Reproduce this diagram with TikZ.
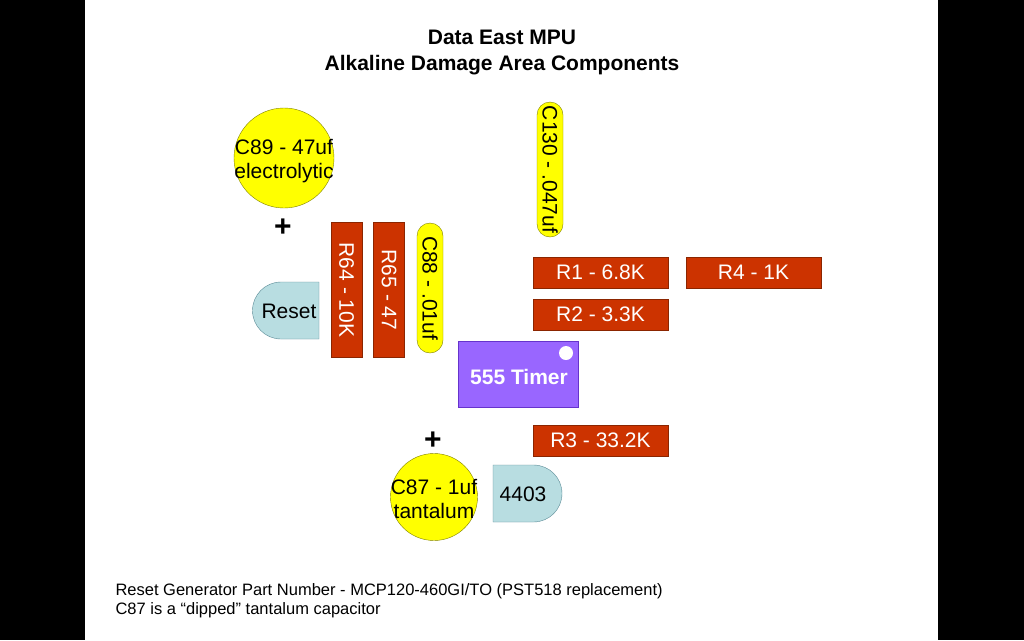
\documentclass[tikz,border=0pt]{standalone}
\usepackage{fontspec}
\setmainfont{Liberation Sans}
\definecolor{resfill}{HTML}{CC3300}
\definecolor{resedge}{HTML}{8B2500}
\definecolor{capfill}{HTML}{FFFF00}
\definecolor{capedge}{HTML}{808000}
\definecolor{chipfill}{HTML}{9966FF}
\definecolor{chipedge}{HTML}{6633CC}
\definecolor{icfill}{HTML}{B8DDE1}
\definecolor{icedge}{HTML}{5A8A96}
\begin{document}
\begin{tikzpicture}[x=1pt,y=-1pt,
  partfont/.style={font=\fontsize{21}{24}\selectfont},
  resistor/.style={partfont,draw=resedge,fill=resfill,text=white,inner sep=0pt,
    minimum width=#1,minimum height=31pt},
  capbar/.style={partfont,draw=capedge,fill=capfill,rounded corners=13pt,inner sep=0pt,
    minimum width=#1,minimum height=26pt},
  bigcap/.style={draw=capedge,fill=capfill,circle,inner sep=0pt,minimum size=#1},
  icbody/.style={draw=icedge,fill=icfill},
  plussign/.style={font=\fontsize{30}{30}\selectfont\bfseries}]
% slide area
\fill[black] (0,0) rectangle (1024,640);
\fill[white] (85,0) rectangle (938,640);
% title
\node[align=center,font=\fontsize{21}{26}\selectfont\bfseries] (title) at (502,52)
  {Data East MPU\\Alkaline Damage Area Components};
% electrolytic cap
\node[bigcap=100pt] (c89) at (284,158) {};
\node[align=center,font=\fontsize{21}{24.5}\selectfont] (c89txt) at (284,161) {C89 - 47uf\\electrolytic};
\node[plussign] (c89plus) at (283,228) {+};
% reset generator
\draw[icbody] (319,282) -- (281,282) arc (270:90:28.5) -- (319,339) -- cycle;
\node[partfont] (reset) at (289,311) {Reset};
% vertical parts
\node[resistor=135pt,rotate=-90] (r64) at (346.5,290) {R64 - 10K};
\node[resistor=135pt,rotate=-90] (r65) at (389,290) {R65 - 47};
\node[capbar=130pt,rotate=-90] (c88) at (430,288) {C88 - .01uf};
\node[capbar=135pt,rotate=-90] (c130) at (550,169.5) {C130 - .047uf};
% resistors
\node[resistor=135pt] (r1) at (600.5,272.5) {R1 - 6.8K};
\node[resistor=135pt] (r4) at (753.5,272.5) {R4 - 1K};
\node[resistor=135pt] (r2) at (600.5,314.5) {R2 - 3.3K};
\node[resistor=135pt] (r3) at (600.5,440.5) {R3 - 33.2K};
% timer
\node[draw=chipedge,fill=chipfill,minimum width=120pt,minimum height=66pt,inner sep=0pt] (timer) at (518,374) {};
\fill[white] (566,353) circle (7pt);
\node[font=\fontsize{21}{24}\selectfont\bfseries,text=white] (timertxt) at (519,377) {555 Timer};
% tantalum cap and 4403
\node[plussign] (c87plus) at (433,441) {+};
\node[bigcap=87pt] (c87) at (434,497) {};
\node[partfont,align=center] (c87txt) at (434,499) {C87 - 1uf\\tantalum};
\draw[icbody] (493,465) -- (533.5,465) arc (270:450:28.5) -- (493,522) -- cycle;
\node[partfont] (ic4403) at (523,494) {4403};
% notes
\node[anchor=west,align=left,font=\fontsize{16.5}{19}\selectfont] (notes) at (112,601)
  {Reset Generator Part Number - MCP120-460GI/TO (PST518 replacement)\\C87 is a “dipped” tantalum capacitor};
\end{tikzpicture}
\end{document}
